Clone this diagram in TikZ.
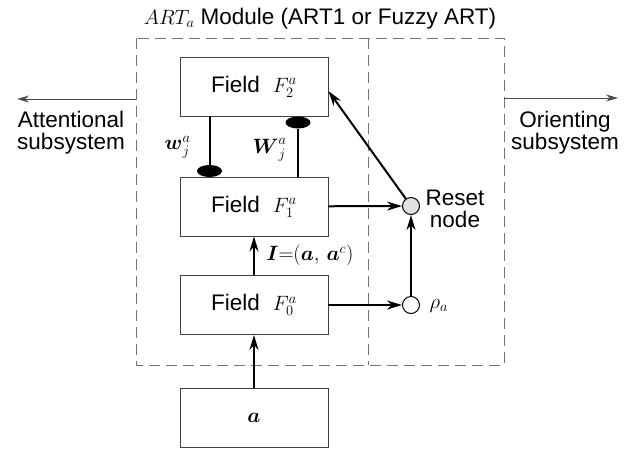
\documentclass[tikz,border=0pt]{standalone}
\usepackage{amsmath}
\usepackage{fontspec}
\setmainfont{Liberation Sans}
\usetikzlibrary{arrows.meta,shapes.geometric}

\begin{document}
\begin{tikzpicture}[x=1pt,y=-1pt,
    every node/.style={font=\fontsize{22.5}{22}\selectfont},
    field/.style={draw=black!75,line width=0.9pt,minimum width=148pt,minimum height=59pt,inner sep=0pt},
    cell/.style={circle,draw,line width=1pt,minimum size=17pt,inner sep=0pt},
    knob/.style={ellipse,fill,minimum width=25pt,minimum height=12pt,inner sep=0pt},
    flow/.style={line width=2pt,-{Stealth[length=15pt,width=9pt]}},
    bond/.style={line width=2pt},
    side/.style={draw=black!70,line width=1pt,-{Stealth[length=12pt,width=7pt]}},
    frame/.style={draw=black!55,line width=1pt,dash pattern=on 11pt off 6pt},
    txt/.style={align=center,inner sep=0pt}]
  \useasboundingbox (0,0) rectangle (625,448);
  \draw[frame] (136,38) rectangle (504,365);
  \draw[frame] (368,38) -- (368,365);
  \node (title) at (320,19) {$ART_a$ Module (ART1 or Fuzzy ART)};
  \draw
    (254,86.5) node[field] (f2){Field\hspace{0.3em} $F^a_2$}
    (254,206.5) node[field] (f1){Field\hspace{0.3em} $F^a_1$}
    (254,305) node[field] (f0){Field\hspace{0.3em} $F^a_0$}
    (254,418) node[field] (inp){$\boldsymbol{a}$}
    (411,206) node[cell,fill=black!12] (reset){}
    (411,305) node[cell,fill=white] (rho){};
  \node[knob] (wk) at (209.5,171) {};
  \node[knob] (Wk) at (298,122.5) {};
  \node[anchor=east] (wlab) at (194,147) {$\boldsymbol{w}^a_j$};
  \node[anchor=east] (Wlab) at (290,150) {$\boldsymbol{W}^a_j$};
  \node[txt] (resetlab) at (455,209) {Reset\\node};
  \node[anchor=west] (rholab) at (426,306) {$\rho_a$};
  \coordinate (attA) at (136,99);
  \coordinate (attB) at (17,99);
  \coordinate (oriA) at (504,98);
  \coordinate (oriB) at (618,98);
  \node[txt] (attlab) at (71,133) {Attentional\\subsystem};
  \node[txt] (orilab) at (565,133) {Orienting\\subsystem};
  \begin{scope}[flow]
    \draw (inp) -- (f0);
    \draw (f0) -- node[right=8pt] (ilab){$\boldsymbol{I}{=}(\boldsymbol{a},\,\boldsymbol{a}^c)$} (f1);
    \draw (f1) -- (reset);
    \draw (f0) -- (rho);
    \draw (rho) -- (reset);
    \draw (reset) -- ([yshift=-4.5pt]f2.east);
  \end{scope}
  \draw[bond] (wk) -- (wk |- f2.south);
  \draw[bond] (Wk) -- (Wk |- f1.north);
  \draw[side] (attA) -- (attB);
  \draw[side] (oriA) -- (oriB);
\end{tikzpicture}
\end{document}
